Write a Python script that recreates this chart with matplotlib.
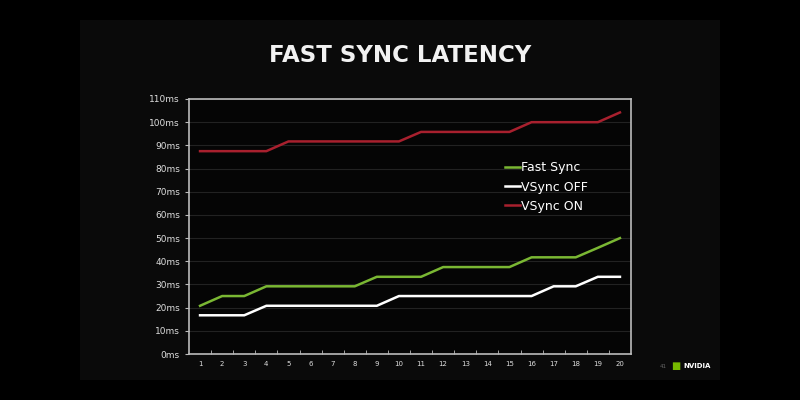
import matplotlib
matplotlib.use("Agg")
import matplotlib.pyplot as plt
from matplotlib.patches import Rectangle

runs = list(range(1, 21))
fast_sync = [20.8, 25.0, 25.0, 29.2, 29.2, 29.2, 29.2, 29.2, 33.3, 33.3,
             33.3, 37.5, 37.5, 37.5, 37.5, 41.7, 41.7, 41.7, 45.8, 50.0]
vsync_off = [16.7, 16.7, 16.7, 20.8, 20.8, 20.8, 20.8, 20.8, 20.8, 25.0,
             25.0, 25.0, 25.0, 25.0, 25.0, 25.0, 29.2, 29.2, 33.3, 33.3]
vsync_on = [87.5, 87.5, 87.5, 87.5, 91.7, 91.7, 91.7, 91.7, 91.7, 91.7,
            95.8, 95.8, 95.8, 95.8, 95.8, 100.0, 100.0, 100.0, 100.0, 104.2]
y_ticks = list(range(0, 111, 10))
y_labels = [f"{v}ms" for v in y_ticks]
series_names = ["Fast Sync", "VSync OFF", "VSync ON"]

fig = plt.figure(figsize=(8, 4), dpi=100)
fig.patch.set_facecolor("#000000")

# slide panel as background axes
bg = fig.add_axes([80 / 800, 20 / 400, 640 / 800, 360 / 400], zorder=-5)
bg.set_facecolor("#0a0a0a")
bg.set_axis_off()
bg.add_patch(Rectangle((0, 0), 1, 1, transform=bg.transAxes,
                       facecolor="#0a0a0a", edgecolor="none"))

ax = fig.add_axes([189 / 800, 1 - 354 / 400, 442 / 800, 255 / 400], zorder=2)
ax.set_facecolor("#050505")

ax.plot(runs, fast_sync, color="#7ab733", lw=1.8, label=series_names[0], zorder=3)
ax.plot(runs, vsync_off, color="#ffffff", lw=1.8, label=series_names[1], zorder=3)
ax.plot(runs, vsync_on, color="#a8202e", lw=1.8, label=series_names[2], zorder=3)

ax.set_xlim(0.5, 20.5)
ax.set_ylim(0, 110)
ax.set_yticks(y_ticks)
ax.set_yticklabels(y_labels)
ax.set_xticks(runs)
ax.set_xticklabels([str(r) for r in runs])
ax.set_xticks([r + 0.5 for r in runs[:-1]], minor=True)
ax.tick_params(axis="x", which="major", length=0, labelsize=5, colors="#dddddd", pad=5)
ax.tick_params(axis="x", which="minor", length=3, direction="in", color="#bbbbbb")
ax.tick_params(axis="y", length=3, labelsize=6.5, colors="#dddddd", color="#bbbbbb")
ax.grid(axis="y", color="#222222", lw=0.8)
ax.set_axisbelow(True)
for s in ax.spines.values():
    s.set_color("#bbbbbb")
    s.set_linewidth(1.2)

leg = ax.legend(loc="upper left", bbox_to_anchor=(0.69, 0.80), frameon=False,
                fontsize=9, handlelength=1.2, handletextpad=0.1,
                labelspacing=0.5, labelcolor="#ffffff")

fig.text(0.5, 1 - 55 / 400, "FAST SYNC LATENCY", ha="center", va="center",
         color="#f2f2f2", fontsize=16.5, fontweight="bold", family="DejaVu Sans")

fig.text(663 / 800, 1 - 366 / 400, "41", ha="center", va="center",
         color="#666666", fontsize=4)
fig.text(676 / 800, 1 - 366 / 400, "\u25A0", ha="center", va="center",
         color="#76b900", fontsize=7)
fig.text(683 / 800, 1 - 366 / 400, "NVIDIA", ha="left", va="center",
         color="#ffffff", fontsize=5, fontweight="bold")

fig.savefig("out.png", dpi=100, facecolor=fig.get_facecolor())
